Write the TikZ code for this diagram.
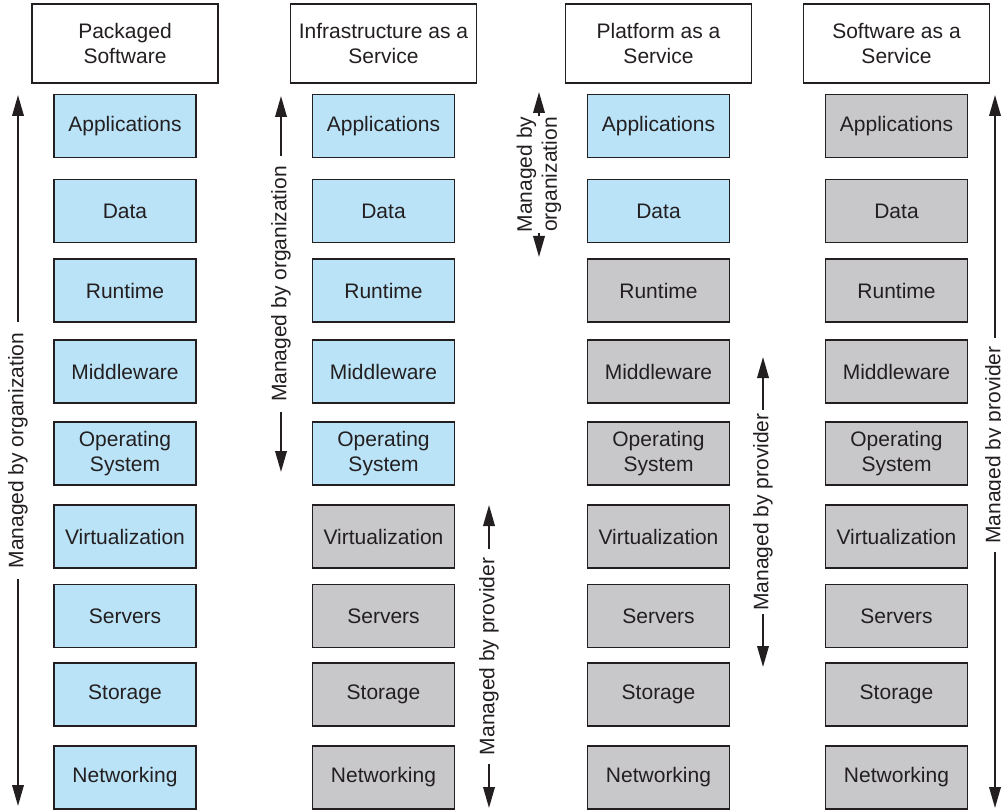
\documentclass[tikz,border=0pt]{standalone}
\usepackage{fontspec}
\setmainfont{Liberation Sans}
\usetikzlibrary{arrows.meta}
\definecolor{orgblue}{RGB}{186,227,247}
\definecolor{provgray}{RGB}{200,200,202}
\definecolor{ink}{RGB}{35,31,32}
\begin{document}
\begin{tikzpicture}[x=1pt,y=-1pt,
  txt/.style={text=ink,font=\fontsize{21}{25}\selectfont,align=center},
  layer/.style={txt,draw=ink,line width=1.7pt,minimum width=142pt,minimum height=63pt,inner sep=0pt},
  orglayer/.style={layer,fill=orgblue},
  provlayer/.style={layer,fill=provgray},
  header/.style={txt,draw=ink,line width=1.7pt,fill=white,minimum width=186pt,minimum height=79pt,inner sep=0pt},
  rotlab/.style={txt,rotate=90,inner ysep=0pt},
  arr/.style={draw=ink,line width=2pt,-{Triangle[length=21pt,width=11.5pt]}}
]
\useasboundingbox (0,0) rectangle (1001,810);

% headers
\node[header] (h1) at (125,43.5) {Packaged\\Software};
\node[header] (h2) at (383.5,43.5) {Infrastructure as a\\Service};
\node[header] (h3) at (658.5,43.5) {Platform as a\\Service};
\node[header] (h4) at (896.5,43.5) {Software as a\\Service};

% layers
\foreach \nm/\lab/\y/\ca/\cb/\cc/\cd in {
  app/Applications/126/orglayer/orglayer/orglayer/provlayer,
  data/Data/211/orglayer/orglayer/orglayer/provlayer,
  run/Runtime/290.5/orglayer/orglayer/provlayer/provlayer,
  mid/Middleware/371.5/orglayer/orglayer/provlayer/provlayer,
  os/{Operating\\System}/453.5/orglayer/orglayer/provlayer/provlayer,
  virt/Virtualization/536.5/orglayer/provlayer/provlayer/provlayer,
  serv/Servers/616/orglayer/provlayer/provlayer/provlayer,
  stor/Storage/694.5/orglayer/provlayer/provlayer/provlayer,
  net/Networking/777.5/orglayer/provlayer/provlayer/provlayer}{
  \node[\ca] (\nm1) at (125,\y) {\lab};
  \node[\cb] (\nm2) at (383.5,\y) {\lab};
  \node[\cc] (\nm3) at (658.5,\y) {\lab};
  \node[\cd] (\nm4) at (896.5,\y) {\lab};
}

% column 1: managed by organization
\node[rotlab,inner xsep=10pt] (m1) at (18,450.5) {Managed by organization};
\coordinate (m1t) at (18,95);
\coordinate (m1b) at (18,806);
\draw[arr] (m1.east) -- (m1t);
\draw[arr] (m1.west) -- (m1b);

% column 2: organization
\node[rotlab,inner xsep=10pt] (m2) at (281,284) {Managed by organization};
\coordinate (m2t) at (281,96);
\coordinate (m2b) at (281,472);
\draw[arr] (m2.east) -- (m2t);
\draw[arr] (m2.west) -- (m2b);

% column 2: provider
\node[rotlab,inner xsep=9pt] (p2) at (489,656.5) {Managed by provider};
\coordinate (p2t) at (489,505);
\coordinate (p2b) at (489,808);
\draw[arr] (p2.east) -- (p2t);
\draw[arr] (p2.west) -- (p2b);

% column 3: organization
\node[rotlab,inner xsep=1pt] (m3) at (539,174.5) {Managed by\\organization};
\coordinate (m3t) at (539,92);
\coordinate (m3b) at (539,257);
\draw[arr] (m3.east) -- (m3t);
\draw[arr] (m3.west) -- (m3b);

% column 3: provider
\node[rotlab,inner xsep=3pt] (p3) at (763,512) {Managed by provider};
\coordinate (p3t) at (763,357);
\coordinate (p3b) at (763,667);
\draw[arr] (p3.east) -- (p3t);
\draw[arr] (p3.west) -- (p3b);

% column 4: provider
\node[rotlab,inner xsep=8pt] (p4) at (995,445) {Managed by provider};
\coordinate (p4t) at (995,95);
\coordinate (p4b) at (995,808);
\draw[arr] (p4.east) -- (p4t);
\draw[arr] (p4.west) -- (p4b);
\end{tikzpicture}
\end{document}
